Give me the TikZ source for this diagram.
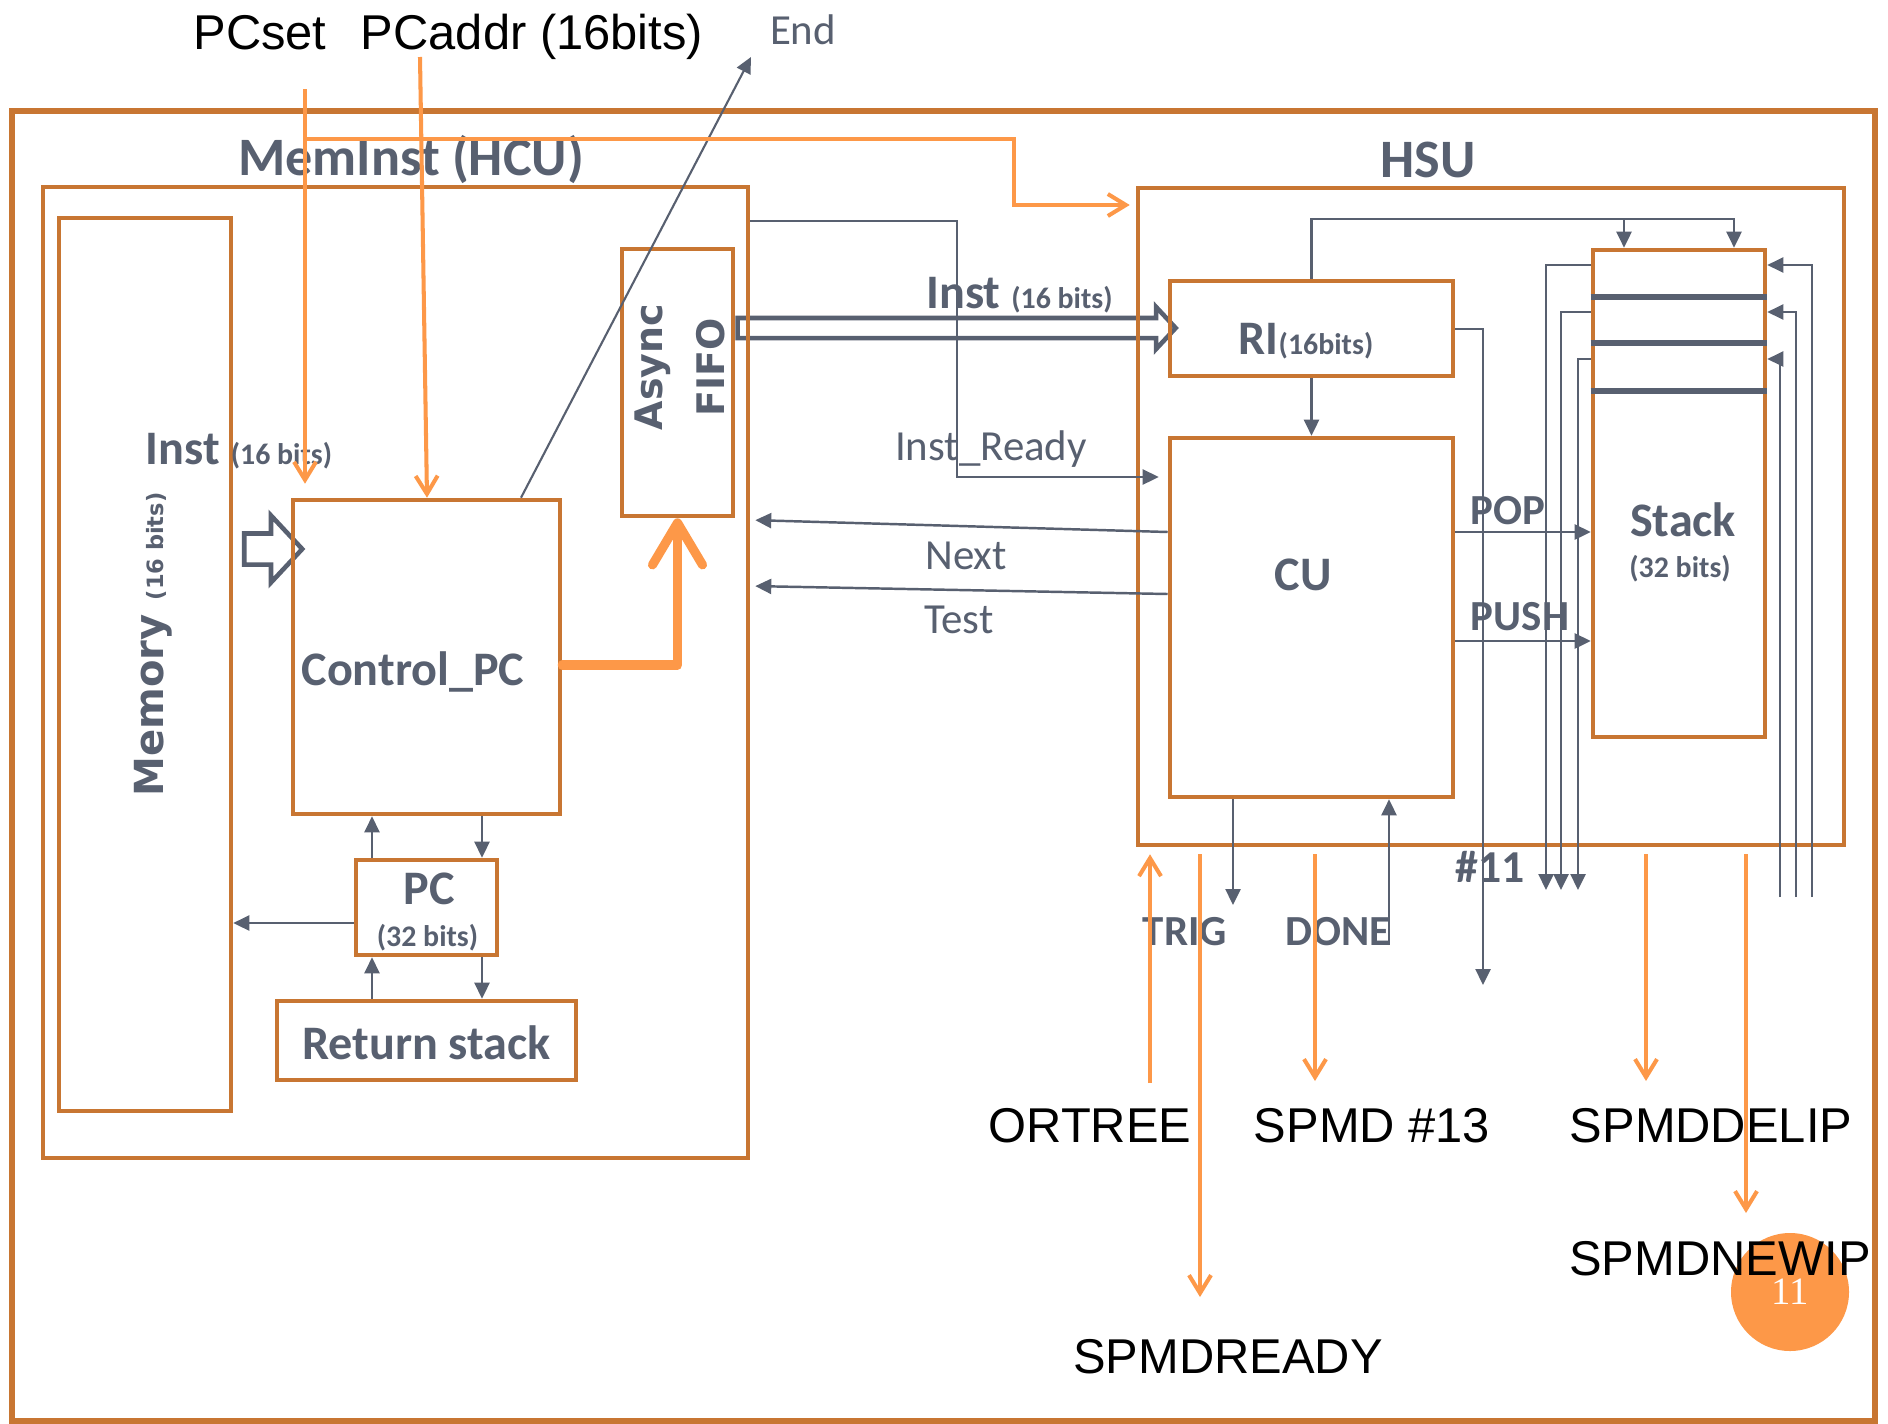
\documentclass[tikz,border=0pt]{standalone}
\usepackage{fontspec}
\setmainfont{Carlito}
\newfontfamily\arialfont{Liberation Sans}
\newfontfamily\verdfont{DejaVu Sans}
\newfontfamily\numfont{Liberation Serif}
\usetikzlibrary{arrows.meta, shapes.arrows, backgrounds, calc}
\definecolor{hcubrown}{RGB}{200,118,50}
\definecolor{sigorange}{RGB}{253,152,72}
\definecolor{slate}{RGB}{88,96,112}
\definecolor{stripepink}{RGB}{252,212,197}
\tikzstyle{block} = [rectangle, draw=hcubrown, line width=1.3pt, inner sep=0pt]
\tikzstyle{sig} = [-{Triangle[length=1.6mm, width=1.5mm]}, slate, line width=0.7pt]
\tikzstyle{orangearrow} = [-{Straight Barb[length=1.8mm, width=2.2mm]}, sigorange, line width=1.15pt]
\tikzstyle{bigorange} = [-{Straight Barb[length=4.2mm, width=5mm, round]}, sigorange, line width=2.6pt,
                         line cap=round, line join=round]
\tikzstyle{hollowarrow} = [single arrow, draw=slate, line width=1.3pt, fill=white, inner xsep=0pt,
                           single arrow tip angle=94]
\tikzstyle{title} = [inner sep=0pt, anchor=base, text=slate, font=\bfseries\fontsize{15.4pt}{18pt}\selectfont]
\tikzstyle{boxlabel} = [inner sep=0pt, anchor=base, text=slate, font=\bfseries\fontsize{13.7pt}{16pt}\selectfont]
\tikzstyle{sublabel} = [inner sep=0pt, anchor=base, text=slate, font=\bfseries\fontsize{8.5pt}{10pt}\selectfont]
\tikzstyle{ctrllabel} = [inner sep=0pt, anchor=base, text=slate, font=\bfseries\fontsize{12.2pt}{14pt}\selectfont]
\tikzstyle{wirelabel} = [inner sep=0pt, anchor=base, text=slate, font=\fontsize{12.2pt}{14pt}\selectfont]
\tikzstyle{extlabel} = [inner sep=0pt, anchor=base, text=black, font=\arialfont\fontsize{13.9pt}{16pt}\selectfont]
\newcommand{\smallbits}[1]{{\fontsize{8.5pt}{10pt}\selectfont #1}}

\begin{document}
\begin{tikzpicture}[x=1cm, y=1cm]

\fill[white] (0,0) rectangle (18.88,-14.23);
\useasboundingbox (0,0) rectangle (18.88,-14.23);

% Background stripes and wide arrows
\begin{scope}[on background layer]
    \fill[stripepink] (18.58,0) rectangle (18.65,-14.23);
    \fill[stripepink] (18.78,0) rectangle (18.88,-14.23);
\end{scope}
\node[hollowarrow, inner ysep=0.1325cm, single arrow head extend=0.18cm, minimum height=0.58cm] (memarrow) at (2.66,-5.49) {};
\node[hollowarrow, inner ysep=0.0775cm, single arrow head extend=0.11cm, minimum height=4.38cm] (instarrow) at (9.52,-3.28) {};

% Frames
\node[block, line width=1.5pt, minimum width=18.63cm, minimum height=13.10cm] (frame) at (9.435,-7.66) {};
\node[block, minimum width=7.05cm, minimum height=9.71cm] (meminst) at (3.955,-6.725) {};
\node[block, minimum width=7.06cm, minimum height=6.57cm] (hsu) at (14.91,-5.165) {};
\node[title] at (4.11,-1.75) {MemInst (HCU)};
\node[title] at (14.28,-1.77) {HSU};

% MemInst blocks
\node[block, minimum width=1.72cm, minimum height=8.93cm] (memory) at (1.45,-6.645) {};
\node[block, minimum width=2.67cm, minimum height=3.14cm] (controlpc) at (4.265,-6.57) {};
\node[block, minimum width=1.11cm, minimum height=2.67cm] (fifo) at (6.775,-3.825) {};
\node[block, minimum width=1.41cm, minimum height=0.95cm] (pc) at (4.265,-9.075) {};
\node[block, minimum width=2.99cm, minimum height=0.79cm] (retstack) at (4.265,-10.405) {};

% HSU blocks
\node[block, minimum width=2.83cm, minimum height=0.95cm] (ri) at (13.115,-3.285) {};
\node[block, minimum width=2.83cm, minimum height=3.59cm] (cu) at (13.115,-6.175) {};
\node[block, minimum width=1.72cm, minimum height=4.87cm] (stack) at (16.79,-4.935) {};
\foreach \yy in {2.97, 3.43, 3.91}
    \draw[slate, line width=1.7pt] (stack.west |- 0,-\yy) -- (stack.east |- 0,-\yy);

% Block labels
\node[rotate=90, text=slate, font=\verdfont\bfseries\fontsize{11.4pt}{13pt}\selectfont] at (1.53,-6.445)
    {Memory {\fontsize{6.4pt}{8pt}\selectfont(16 bits)}};
\node[rotate=90, align=center, text=slate, font=\verdfont\bfseries\fontsize{10.8pt}{17.6pt}\selectfont] at (6.80,-3.67)
    {Async\\FIFO};
\node[boxlabel] at (4.13,-6.85) {Control\_PC};
\node[boxlabel] at (4.29,-9.04) {PC};
\node[sublabel] at (4.275,-9.46) {(32 bits)};
\node[boxlabel] at (4.265,-10.59) {Return stack};
\node[boxlabel] at (13.06,-3.54) {RI\smallbits{(16bits)}};
\node[boxlabel] at (13.03,-5.90) {CU};
\node[boxlabel] at (16.83,-5.36) {Stack};
\node[sublabel] at (16.80,-5.77) {(32 bits)};
\node[boxlabel] at (2.39,-4.64) {Inst \smallbits{(16 bits)}};
\node[boxlabel] at (10.195,-3.08) {Inst \smallbits{(16 bits)}};

% Wire labels
\node[wirelabel] at (9.91,-4.60) {Inst\_Ready};
\node[wirelabel] at (9.66,-5.69) {Next};
\node[wirelabel] at (9.59,-6.33) {Test};
\node[wirelabel] (endlbl) at (8.03,-0.44) {End};
\node[ctrllabel] at (15.08,-5.24) {POP};
\node[ctrllabel] at (15.20,-6.30) {PUSH};
\node[ctrllabel, font=\bfseries\fontsize{13pt}{15pt}\selectfont] at (14.90,-8.82) {\#11};
\node[ctrllabel] at (11.85,-9.45) {TRIG};
\node[ctrllabel] at (13.38,-9.45) {DONE};

% Page number
\node[circle, fill=sigorange, minimum size=1.18cm, inner sep=0pt, text=white,
      font=\numfont\fontsize{11pt}{13pt}\selectfont] (pagenum) at (17.90,-12.92) {11};

% External signals
\node[extlabel] (pcset) at (2.60,-0.50) {PCset};
\node[extlabel] (pcaddr) at (5.32,-0.50) {PCaddr (16bits)};
\node[extlabel] (ortree) at (10.90,-11.42) {ORTREE};
\node[extlabel] (spmd) at (13.72,-11.42) {SPMD \#13};
\node[extlabel] (spmddelip) at (17.11,-11.42) {SPMDDELIP};
\node[extlabel] (spmdnewip) at (17.20,-12.75) {SPMDNEWIP};
\node[extlabel] (spmdready) at (12.28,-13.73) {SPMDREADY};

% MemInst wires
\draw[sig] (pc.west |- 0,-9.23) -- (memory.east |- 0,-9.23);
\draw[sig] (pc.north -| 3.72,0) -- (controlpc.south -| 3.72,0);
\draw[sig] (controlpc.south -| 4.82,0) -- (pc.north -| 4.82,0);
\draw[sig] (retstack.north -| 3.72,0) -- (pc.south -| 3.72,0);
\draw[sig] (pc.south -| 4.82,0) -- (retstack.north -| 4.82,0);
\coordinate (endtip) at (7.51,-0.57);
\draw[sig, line width=0.6pt] (controlpc.north -| 5.21,0) -- (endtip);
\draw[bigorange] (controlpc.east |- 0,-6.65) -| (fifo.south);

% Handshake wires
\draw[sig, shorten >=0.9mm] (meminst.east |- 0,-2.21) -- (9.57,-2.21) |- (cu.west |- 0,-4.77);
\draw[sig, shorten >=0.5mm] (cu.west |- 0,-5.32) -- (meminst.east |- 0,-5.20);
\draw[sig, shorten >=0.5mm] (cu.west |- 0,-5.94) -- (meminst.east |- 0,-5.86);

% HSU wires
\draw[sig] (ri.south) -- (cu.north);
\draw[sig] (ri.north) -- (13.115,-2.19) -| (stack.north -| 17.34,0);
\draw[sig] (16.24,-2.19) -- (stack.north -| 16.24,0);
\coordinate (riout) at (14.83,-9.85);
\draw[sig] (ri.east |- 0,-3.29) -| (riout);
\draw[sig] (cu.east |- 0,-5.32) -- (stack.west |- 0,-5.32);
\draw[sig] (cu.east |- 0,-6.41) -- (stack.west |- 0,-6.41);
\foreach \yy/\xx/\n in {2.65/15.46/1, 3.12/15.61/2, 3.59/15.78/3} {
    \coordinate (lout\n) at (\xx,-8.90);
    \draw[sig] (stack.west |- 0,-\yy) -| (lout\n);
}
\foreach \yy/\xx/\n in {2.65/18.12/1, 3.12/17.96/2, 3.59/17.80/3} {
    \coordinate (rin\n) at (\xx,-8.97);
    \draw[sig] (rin\n) |- (stack.east |- 0,-\yy);
}
\coordinate (trigout) at (12.33,-9.05);
\draw[sig] (cu.south -| trigout) -- (trigout);
\coordinate (donein) at (13.89,-9.45);
\draw[sig] (donein) -- (cu.south -| donein);

% Orange signals
\coordinate (pcsetin) at (3.05,-0.89);
\draw[orangearrow, shorten >=0.14cm] (pcsetin) -- (pcsetin |- controlpc.north);
\draw[orangearrow, shorten >=0.06cm] (pcsetin |- 0,-1.39) -- (10.14,-1.39) |- (hsu.west |- 0,-2.05);
\coordinate (pcaddrin) at (4.20,-0.57);
\draw[orangearrow] (pcaddrin) -- (controlpc.north -| 4.27,0);
\coordinate (ortreein) at (11.50,-10.83);
\draw[orangearrow, shorten >=0.07cm] (ortreein) -- (hsu.south -| ortreein);
\foreach \xx/\yy/\n in {12.00/12.97/ready, 13.15/10.81/thirteen, 16.46/10.81/delip, 17.46/12.13/newip} {
    \coordinate (out\n) at (\xx,-\yy);
    \draw[orangearrow, shorten <=0.07cm] (hsu.south -| out\n) -- (out\n);
}

\end{tikzpicture}
\end{document}
